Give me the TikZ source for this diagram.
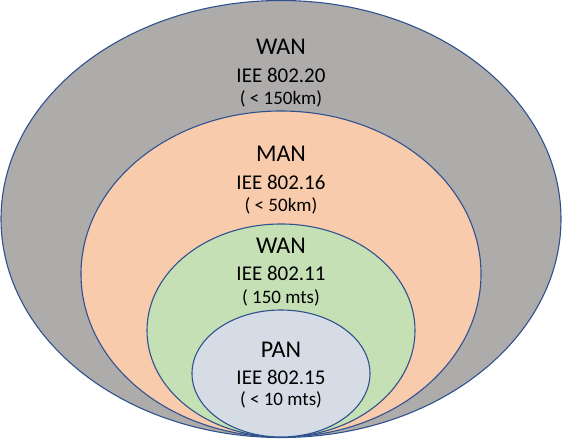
\documentclass[tikz,border=0pt]{standalone}
\usepackage{fontspec}
\setmainfont{Carlito}
\usepackage{tikz}
\usepackage{xcolor}
\usetikzlibrary{shapes.geometric}

\definecolor{rimblue}{HTML}{2F528F}
\definecolor{wangray}{HTML}{AEABAB}
\definecolor{manorange}{HTML}{F8CBAD}
\definecolor{langreen}{HTML}{C5E0B4}
\definecolor{panblue}{HTML}{D6DCE5}

\tikzset{
  zone/.style={draw=rimblue, line width=1.1pt, ellipse, inner sep=0pt},
  nettitle/.style={font=\fontsize{24}{26}\selectfont, text height=15pt, text depth=0pt, inner sep=0pt},
  netstd/.style={font=\fontsize{21}{24}\selectfont, text height=13.5pt, text depth=0pt, inner sep=0pt},
  netrange/.style={font=\fontsize{19}{21}\selectfont, text height=12pt, text depth=0pt, inner sep=0pt}
}

\begin{document}
\begin{tikzpicture}[x=1pt, y=-1pt]
\useasboundingbox (0,0) rectangle (565,441);

\node (wan) [zone, fill=wangray, minimum width=560pt, minimum height=437pt] at (281,219) {};
\node (man) [zone, fill=manorange, minimum width=400pt, minimum height=326pt] at (281,274) {};
\node (lan) [zone, fill=langreen, minimum width=268pt, minimum height=213pt] at (281,330.5) {};
\node (pan) [zone, fill=panblue, minimum width=178pt, minimum height=127pt] at (281,373.5) {};

\node (wantitle) [nettitle] at (281,47) {WAN};
\node (wanstd) [netstd, node distance=28.5pt, below of=wantitle] {IEE 802.20};
\node (wanrange) [netrange, node distance=23pt, below of=wanstd] {( < 150km)};

\node (mantitle) [nettitle] at (281,154) {MAN};
\node (manstd) [netstd, node distance=28.5pt, below of=mantitle] {IEE 802.16};
\node (manrange) [netrange, node distance=23pt, below of=manstd] {( < 50km)};

\node (lantitle) [nettitle] at (281,246) {WAN};
\node (lanstd) [netstd, node distance=28pt, below of=lantitle] {IEE 802.11};
\node (lanrange) [netrange, node distance=23pt, below of=lanstd] {( 150 mts)};

\node (pantitle) [nettitle] at (281,350) {PAN};
\node (panstd) [netstd, node distance=27.5pt, below of=pantitle] {IEE 802.15};
\node (panrange) [netrange, node distance=22pt, below of=panstd] {( < 10 mts)};
\end{tikzpicture}
\end{document}
